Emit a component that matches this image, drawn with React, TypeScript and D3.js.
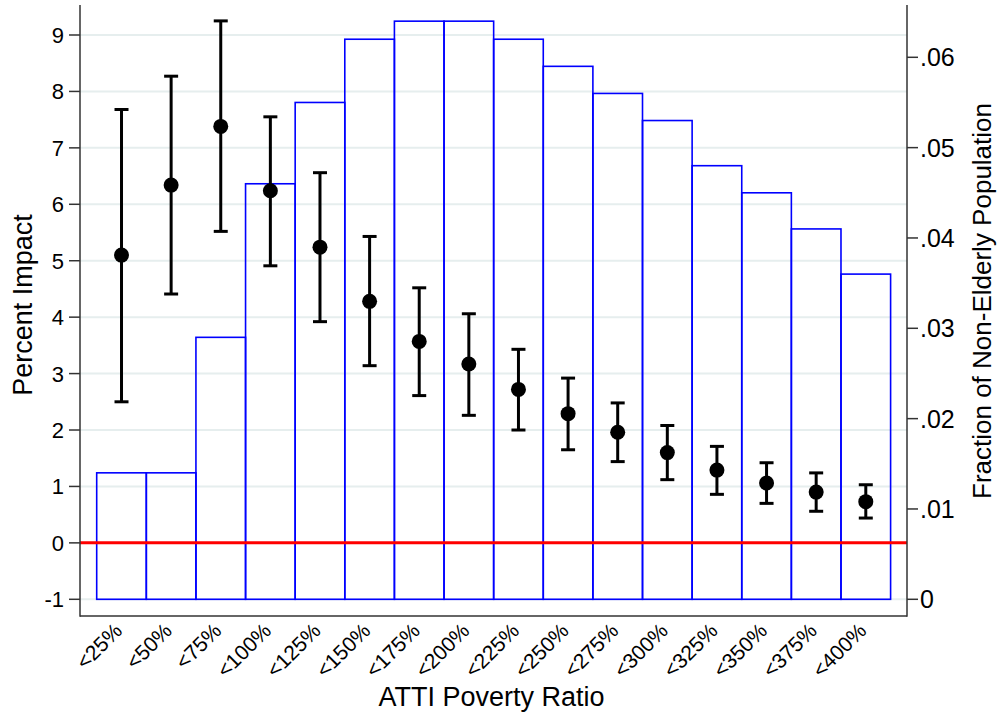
import React from "react";
import * as d3 from "d3";

const categories = ["<25%", "<50%", "<75%", "<100%", "<125%", "<150%", "<175%", "<200%", "<225%", "<250%", "<275%", "<300%", "<325%", "<350%", "<375%", "<400%"];
const fractions = [0.014, 0.014, 0.029, 0.046, 0.055, 0.062, 0.064, 0.064, 0.062, 0.059, 0.056, 0.053, 0.048, 0.045, 0.041, 0.036];
const impact = [5.1, 6.34, 7.38, 6.24, 5.24, 4.28, 3.57, 3.17, 2.72, 2.29, 1.96, 1.6, 1.29, 1.06, 0.9, 0.73];
const ciLow = [2.5, 4.41, 5.52, 4.91, 3.92, 3.14, 2.61, 2.26, 2.0, 1.65, 1.44, 1.12, 0.86, 0.7, 0.56, 0.44];
const ciHigh = [7.68, 8.27, 9.25, 7.55, 6.56, 5.43, 4.52, 4.06, 3.43, 2.92, 2.48, 2.08, 1.71, 1.42, 1.24, 1.03];
const leftTicks = [-1, 0, 1, 2, 3, 4, 5, 6, 7, 8, 9];
const rightTicks = [0, 0.01, 0.02, 0.03, 0.04, 0.05, 0.06];

const FONT = "'Liberation Sans', Arial, Helvetica, sans-serif";

export default function App() {
  const W = 1000, H = 717;
  const plotL = 80, plotR = 907, plotT = 5, plotB = 616;

  const x = d3.scaleBand<string>().domain(categories).range([96.7, 890.6]).padding(0);
  const yL = d3.scaleLinear().domain([-1, 9]).range([599.3, 35]);
  const yR = d3.scaleLinear().domain([0, 0.06]).range([599.3, 57.3]);
  const fmtR = (v: number) => (v === 0 ? "0" : d3.format(".2f")(v).replace(/^0/, ""));

  const capW = 7;
  const axisColor = "#333";

  return (
    <svg width={W} height={H} style={{ position: "absolute", left: 0, top: 0, background: "#fff" }} fontFamily={FONT}>
      <rect x={0} y={0} width={W} height={H} fill="#fff" />
      {leftTicks.filter((t) => t !== 0).map((t) => (
        <line key={"g" + t} x1={plotL} x2={plotR} y1={yL(t)} y2={yL(t)} stroke="#e6eeee" strokeWidth={2} />
      ))}
      {categories.map((c, i) => (
        <rect key={"b" + c} x={x(c)} y={yR(fractions[i])} width={x.bandwidth()} height={yR(0) - yR(fractions[i])}
          fill="none" stroke="#0000ff" strokeWidth={1.6} />
      ))}
      <line x1={plotL} x2={plotR} y1={yL(0)} y2={yL(0)} stroke="#ff0000" strokeWidth={3} />
      {categories.map((c, i) => {
        const cx = (x(c) as number) + x.bandwidth() / 2;
        return (
          <g key={"e" + c} stroke="#000" strokeWidth={3}>
            <line x1={cx} x2={cx} y1={yL(ciLow[i])} y2={yL(ciHigh[i])} />
            <line x1={cx - capW} x2={cx + capW} y1={yL(ciLow[i])} y2={yL(ciLow[i])} />
            <line x1={cx - capW} x2={cx + capW} y1={yL(ciHigh[i])} y2={yL(ciHigh[i])} />
          </g>
        );
      })}
      {categories.map((c, i) => (
        <circle key={"p" + c} cx={(x(c) as number) + x.bandwidth() / 2} cy={yL(impact[i])} r={7.5} fill="#000" />
      ))}
      <line x1={plotL} x2={plotL} y1={plotT} y2={plotB + 0.75} stroke={axisColor} strokeWidth={1.5} />
      <line x1={plotR} x2={plotR} y1={plotT} y2={plotB + 0.75} stroke={axisColor} strokeWidth={1.5} />
      <line x1={plotL} x2={plotR} y1={plotB} y2={plotB} stroke={axisColor} strokeWidth={1.5} />
      {leftTicks.map((t) => (
        <g key={"lt" + t}>
          <line x1={plotL - 11} x2={plotL} y1={yL(t)} y2={yL(t)} stroke={axisColor} strokeWidth={1.5} />
          <text x={plotL - 16} y={yL(t)} dy="0.36em" textAnchor="end" fontSize={22} fill="#000">{t}</text>
        </g>
      ))}
      {rightTicks.map((t) => (
        <g key={"rt" + t}>
          <line x1={plotR} x2={plotR + 11} y1={yR(t)} y2={yR(t)} stroke={axisColor} strokeWidth={1.5} />
          <text x={plotR + 13} y={yR(t)} dy="0.36em" textAnchor="start" fontSize={25} fill="#000">{fmtR(t)}</text>
        </g>
      ))}
      {categories.map((c) => {
        const px = (x(c) as number) + x.bandwidth() / 2 + 2;
        const py = 632;
        return (
          <text key={"xl" + c} x={px} y={py} textAnchor="end" fontSize={21} fill="#000"
            transform={`rotate(-45 ${px} ${py})`}>{c}</text>
        );
      })}
      <text x={491.5} y={706} textAnchor="middle" fontSize={27} fill="#000">ATTI Poverty Ratio</text>
      <text x={0} y={0} textAnchor="middle" fontSize={27} fill="#000" transform="translate(32 305) rotate(-90)">Percent Impact</text>
      <text x={0} y={0} textAnchor="middle" fontSize={26} fill="#000" transform="translate(991 301) rotate(-90)">Fraction of Non-Elderly Population</text>
    </svg>
  );
}
